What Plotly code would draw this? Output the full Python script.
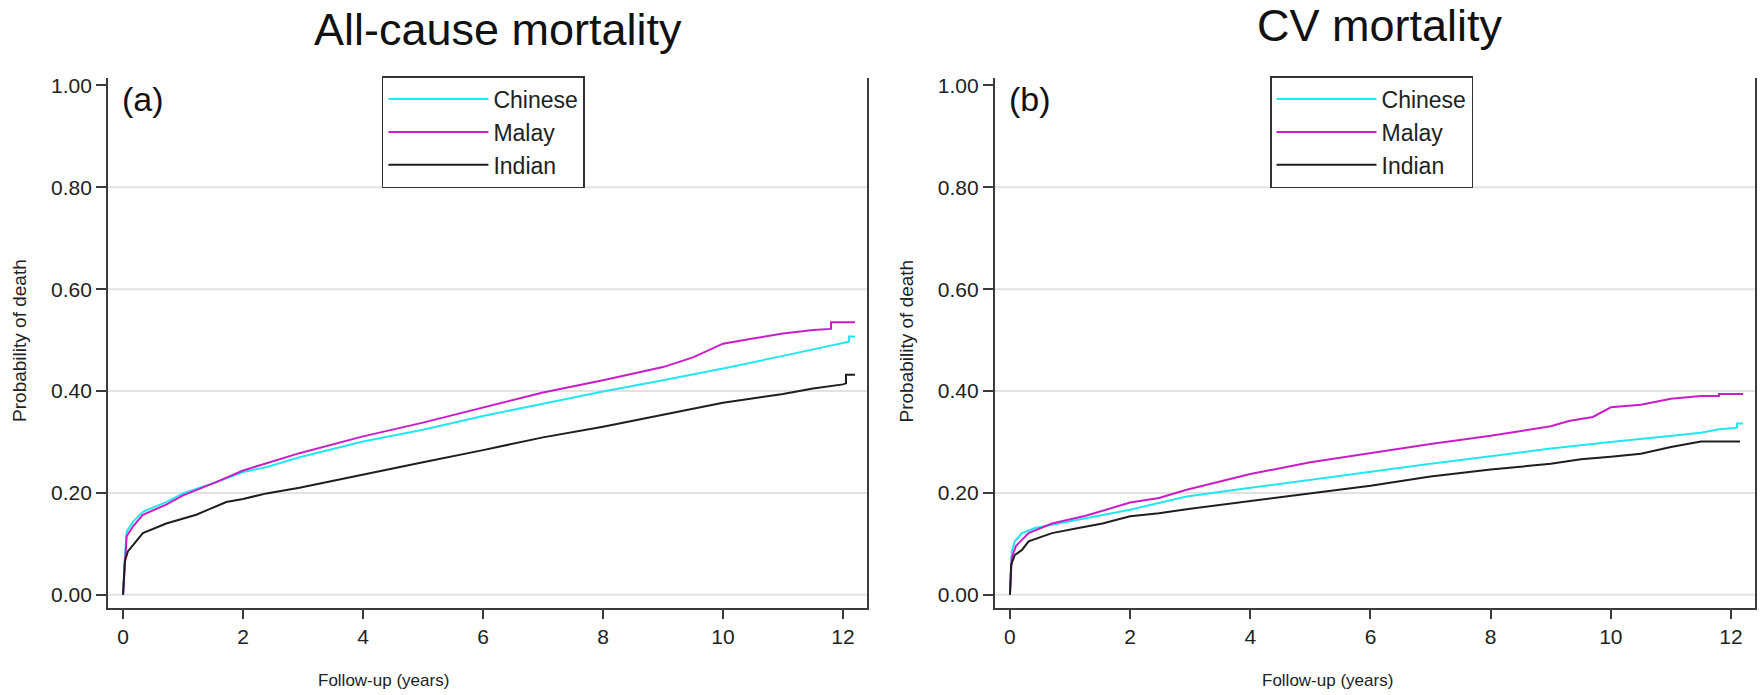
import plotly.graph_objects as go

# ---------------- data ----------------
groups = ["Chinese", "Malay", "Indian"]
colors = {"Chinese": "#22e6f0", "Malay": "#c81ec8", "Indian": "#1e1e1e"}

# Panel (a): All-cause mortality
a_chinese_t = [0, 0.02, 0.06, 0.17, 0.33, 0.72, 1.0, 1.55, 2.0, 2.4, 2.94, 4, 5, 6, 7, 8, 9, 10, 11, 12.1, 12.1, 12.2]
a_chinese_p = [0, 0.053, 0.124, 0.144, 0.163, 0.182, 0.199, 0.221, 0.241, 0.251, 0.27, 0.301, 0.324, 0.351, 0.375, 0.399, 0.421, 0.444, 0.469, 0.497, 0.507, 0.507]
a_malay_t = [0, 0.03, 0.06, 0.17, 0.33, 0.72, 1.0, 1.55, 2.0, 2.94, 4, 5, 6, 7, 8, 9, 9.5, 10, 10.5, 11, 11.5, 11.8, 11.8, 12.2]
a_malay_p = [0, 0.06, 0.115, 0.135, 0.157, 0.177, 0.195, 0.221, 0.244, 0.278, 0.311, 0.338, 0.367, 0.397, 0.421, 0.447, 0.466, 0.493, 0.503, 0.513, 0.52, 0.522, 0.535, 0.535]
a_indian_t = [0, 0.03, 0.08, 0.17, 0.33, 0.72, 1.22, 1.44, 1.72, 2.0, 2.39, 2.94, 4, 5, 6, 7, 8, 9, 10, 11, 11.5, 12.0, 12.05, 12.05, 12.2]
a_indian_p = [0, 0.066, 0.085, 0.098, 0.121, 0.14, 0.157, 0.168, 0.182, 0.188, 0.199, 0.21, 0.235, 0.26, 0.284, 0.309, 0.33, 0.353, 0.377, 0.394, 0.405, 0.413, 0.415, 0.432, 0.432]

# Panel (b): CV mortality
b_chinese_t = [0, 0.03, 0.08, 0.2, 0.42, 0.7, 1.26, 2.0, 2.94, 4, 5, 6, 7, 8, 9, 10, 11, 11.5, 11.8, 12.1, 12.1, 12.2]
b_chinese_p = [0, 0.085, 0.105, 0.121, 0.131, 0.137, 0.15, 0.167, 0.193, 0.21, 0.226, 0.242, 0.257, 0.272, 0.287, 0.3, 0.312, 0.318, 0.325, 0.328, 0.336, 0.336]
b_malay_t = [0, 0.03, 0.1, 0.31, 0.7, 1.26, 2.0, 2.48, 2.94, 4, 5, 6, 7, 8, 9, 9.3, 9.7, 10, 10.5, 11, 11.5, 11.8, 11.8, 12.2]
b_malay_p = [0, 0.073, 0.096, 0.121, 0.14, 0.155, 0.181, 0.19, 0.206, 0.237, 0.26, 0.278, 0.296, 0.312, 0.331, 0.341, 0.349, 0.368, 0.373, 0.385, 0.39, 0.39, 0.394, 0.394]
b_indian_t = [0, 0.02, 0.08, 0.2, 0.31, 0.7, 1.14, 1.54, 2.0, 2.48, 2.94, 4, 5, 6, 7, 8, 9, 9.5, 10, 10.5, 11, 11.5, 12.15]
b_indian_p = [0, 0.059, 0.078, 0.088, 0.105, 0.121, 0.131, 0.14, 0.154, 0.16, 0.168, 0.184, 0.199, 0.214, 0.232, 0.246, 0.257, 0.266, 0.271, 0.277, 0.29, 0.301, 0.301]

panel_titles = ["All-cause mortality", "CV mortality"]
panel_labels = ["(a)", "(b)"]
x_title = "Follow-up (years)"
y_title = "Probability of death"
x_ticks = [0, 2, 4, 6, 8, 10, 12]
y_ticks = [0.0, 0.2, 0.4, 0.6, 0.8, 1.0]

# ---------------- figure ----------------
FONT = "Liberation Sans, Arial, Helvetica, sans-serif"
AX = "#3c3c3c"
GRID = "#e2e2e2"

fig = go.Figure()

series = [
    ("a", "x", "y", "legend", {"Chinese": (a_chinese_t, a_chinese_p), "Malay": (a_malay_t, a_malay_p), "Indian": (a_indian_t, a_indian_p)}),
    ("b", "x2", "y2", "legend2", {"Chinese": (b_chinese_t, b_chinese_p), "Malay": (b_malay_t, b_malay_p), "Indian": (b_indian_t, b_indian_p)}),
]
for tag, xa, ya, lg, data in series:
    for g in groups:
        t, p = data[g]
        fig.add_trace(go.Scatter(x=t, y=p, mode="lines", name=g, xaxis=xa, yaxis=ya,
                                 legend=lg, legendgroup=f"{tag}-{g}",
                                 line=dict(color=colors[g], width=2)))

ydom = [0.1266, 0.8935]
xdoms = [[0.0614, 0.4926], [0.5653, 0.9972]]

def xaxis(dom, anchor):
    return dict(domain=dom, anchor=anchor, range=[-0.25, 12.4], tickvals=x_ticks,
                showgrid=False, zeroline=False, showline=True, linecolor=AX, linewidth=2,
                ticks="outside", ticklen=9, tickwidth=1.5, tickcolor=AX,
                tickfont=dict(family=FONT, size=21, color="#222222"))

def yaxis(anchor):
    return dict(domain=ydom, anchor=anchor, range=[-0.0253, 1.0136], tickvals=y_ticks,
                tickformat=".2f", showgrid=False, zeroline=False, showline=True,
                linecolor=AX, linewidth=2, mirror=True,
                ticks="outside", ticklen=10, tickwidth=1.5, tickcolor=AX,
                tickfont=dict(family=FONT, size=21, color="#222222"))

legend_style = dict(bgcolor="white", bordercolor="#333333", borderwidth=1.5,
                    font=dict(family=FONT, size=23, color="#222222"),
                    xanchor="left", yanchor="top", itemwidth=100,
                    entrywidth=214, entrywidthmode="pixels",
                    traceorder="grouped", tracegroupgap=0)

fig.update_layout(
    width=1760, height=695, autosize=False,
    margin=dict(l=0, r=0, t=0, b=0),
    paper_bgcolor="white", plot_bgcolor="white",
    font=dict(family=FONT, color="#222222"),
    xaxis=xaxis(xdoms[0], "y"), yaxis=yaxis("x"),
    xaxis2=xaxis(xdoms[1], "y2"), yaxis2=yaxis("x2"),
    legend=dict(x=0.217, y=0.897, **legend_style),
    legend2=dict(x=0.7216, y=0.897, **legend_style),
)

# light horizontal gridlines at the y ticks (none at the top 1.00)
for xr, yr in [("x domain", "y"), ("x2 domain", "y2")]:
    for v in y_ticks[:-1]:
        fig.add_shape(type="line", xref=xr, yref=yr, x0=0, x1=1, y0=v, y1=v,
                      line=dict(color=GRID, width=2), layer="below")

# titles, axis titles and panel labels
title_x = [0.283, 0.784]
title_y = [0.964, 0.97]
xtitle_x = [0.218, 0.754]
ytitle_x = [0.011, 0.5153]
for i in range(2):
    fig.add_annotation(text=panel_titles[i], x=title_x[i], y=title_y[i], xref="paper", yref="paper",
                       showarrow=False, xanchor="center", yanchor="middle",
                       font=dict(family=FONT, size=45, color="#111111"))
    fig.add_annotation(text=x_title, x=xtitle_x[i], y=0.0216, xref="paper", yref="paper",
                       showarrow=False, xanchor="center", yanchor="middle",
                       font=dict(family=FONT, size=17, color="#222222"))
    fig.add_annotation(text=y_title, x=ytitle_x[i], y=0.5137, xref="paper", yref="paper",
                       showarrow=False, xanchor="center", yanchor="middle", textangle=-90,
                       font=dict(family=FONT, size=19, color="#222222"))
    fig.add_annotation(text=panel_labels[i], x=0.016, y=1.0,
                       xref=("x domain" if i == 0 else "x2 domain"),
                       yref=("y domain" if i == 0 else "y2 domain"),
                       showarrow=False, xanchor="left", yanchor="top",
                       font=dict(family=FONT, size=34, color="#111111"))

fig.write_html("out.html")
